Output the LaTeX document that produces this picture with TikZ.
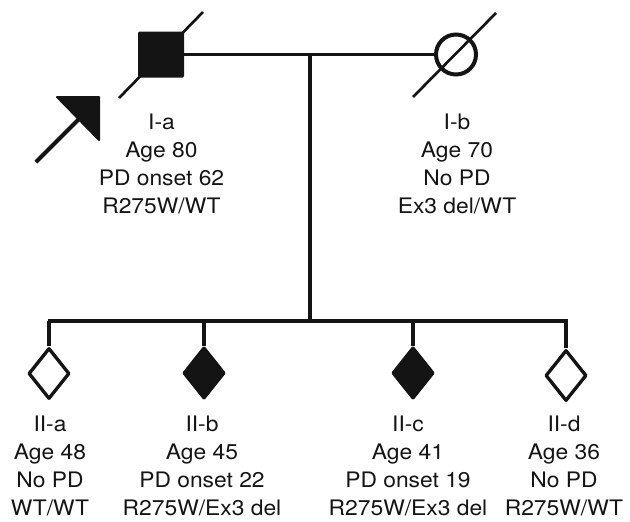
\documentclass[tikz,border=0pt]{standalone}
\usepackage{fontspec}
\setmainfont[FakeStretch=1.07]{TeX Gyre Heros}
\usetikzlibrary{shapes.geometric}
\definecolor{ink}{HTML}{141414}
\begin{document}
\begin{tikzpicture}[x=0.75pt,y=-0.75pt,
  lw/.style={draw=ink,line width=2.3pt},
  thinl/.style={draw=ink,line width=2pt},
  sq/.style={rectangle,fill=ink,minimum size=34.5pt,inner sep=0pt,rounded corners=1pt},
  circ/.style={circle,draw=ink,line width=3pt,minimum size=30pt,inner sep=0pt},
  dia/.style={diamond,draw=ink,line width=2.5pt,line join=round,minimum width=30.75pt,minimum height=38.25pt,inner sep=0pt},
  diaf/.style={dia,fill=ink},
  lbl/.style={align=center,inner sep=0pt,anchor=base,text=ink,font=\fontsize{16}{20.85}\selectfont}]
\useasboundingbox (0,0) rectangle (630,521);
% generation I
\node[sq] (Ia) at (161,54.5) {};
\node[circ] (Ib) at (456,54.5) {};
\coordinate (dA1) at (119,98);
\coordinate (dA2) at (203,12);
\coordinate (dB1) at (413,97);
\coordinate (dB2) at (496,13);
\draw[thinl] (dA1) -- (dA2);
\draw[thinl] (dB1) -- (dB2);
% proband arrow
\coordinate (ar0) at (36,162);
\coordinate (ar1) at (80,118);
\coordinate (tA) at (57,97);
\coordinate (tB) at (99,97);
\coordinate (tC) at (99,140);
\draw[draw=ink,line width=3pt] (ar0) -- (ar1);
\filldraw[ink,line width=1.5pt,line join=round] (tA) -- (tB) -- (tC) -- cycle;
% mating and sibship lines
\draw[lw] (Ia.east) -- (Ib.west);
\coordinate (mate) at (310,54.5);
\coordinate (sib) at (310,321);
\draw[lw] (mate) -- (sib);
\coordinate (sL) at (48,321);
\coordinate (sR) at (567.5,321);
\draw[lw] (sL) -- (sR);
% generation II
\node[dia] (IIa) at (49,373.5) {};
\node[diaf] (IIb) at (204,373) {};
\node[diaf] (IIc) at (413,373) {};
\node[dia] (IId) at (566,375.5) {};
\foreach \n in {IIa,IIb,IIc,IId}{\draw[lw] (\n.north) -- (\n.north |- sL);}
% labels (base anchor = baseline of last line)
\node[lbl] (tIa) at (161.5,213) {I-a\\Age 80\\PD onset 62\\R275W/WT};
\node[lbl] (tIb) at (457,213) {I-b\\Age 70\\No PD\\Ex3 del/WT};
\node[lbl] (tIIa) at (50,515) {II-a\\Age 48\\No PD\\WT/WT};
\node[lbl] (tIIb) at (202,515) {II-b\\Age 45\\PD onset 22\\R275W/Ex3 del};
\node[lbl] (tIIc) at (408,515) {II-c\\Age 41\\PD onset 19\\R275W/Ex3 del};
\node[lbl] (tIId) at (564,515) {II-d\\Age 36\\No PD\\R275W/WT};
\end{tikzpicture}
\end{document}
